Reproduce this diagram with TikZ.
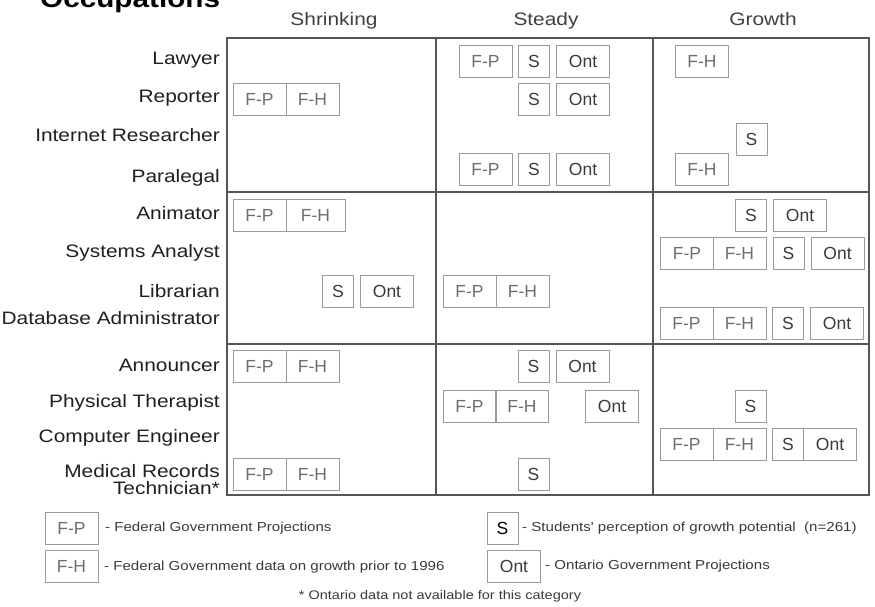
\documentclass[tikz,border=0pt]{standalone}
\usepackage{fontspec}
\setmainfont{Liberation Sans}
\newfontfamily\labfont[FakeStretch=1.16]{Liberation Sans}
\newfontfamily\boxfont{Liberation Sans}
\definecolor{gridc}{HTML}{555555}
\definecolor{boxc}{HTML}{9A9A9A}
\definecolor{fedc}{HTML}{6E6E6E}
\definecolor{stc}{HTML}{3A3A3A}
\definecolor{labc}{HTML}{202020}
\definecolor{hdrc}{HTML}{404040}
\begin{document}
\begin{tikzpicture}[x=1pt,y=-1pt,
  gridline/.style={draw=gridc,line width=1.1pt},
  lab/.style={anchor=base east,inner sep=0,text=labc,font=\labfont\fontsize{18}{18}\selectfont},
  hdr/.style={anchor=base,inner sep=0,text=hdrc,font=\labfont\fontsize{18}{18}\selectfont},
  bx/.style={draw=boxc,line width=0.8pt,inner sep=0,minimum height=32,font=\boxfont\fontsize{17.5}{17.5}\selectfont},
  wbox/.style={bx,minimum width=53},
  sbox/.style={bx,minimum width=31},
  fed/.style={wbox,text=fedc},
  stu/.style={sbox,text=stc},
  ont/.style={wbox,text=stc},
  lgd/.style={anchor=west,inner sep=0,text=stc,font=\labfont\fontsize{13}{13}\selectfont},
  foot/.style={anchor=center,inner sep=0,text=stc,font=\labfont\fontsize{12.5}{13}\selectfont}]
\useasboundingbox (0,0) rectangle (875,607);
\fill[white] (0,0) rectangle (875,607);

% title and headers
\node[anchor=base west,inner sep=0,font=\labfont\bfseries\fontsize{25.6}{26}\selectfont] (title) at (40,7.5) {Occupations};
\node[hdr] (hShr) at (334,26) {Shrinking};
\node[hdr] (hSte) at (546,26) {Steady};
\node[hdr] (hGro) at (763,26) {Growth};

% grid
\draw[gridline] (227,38) rectangle (869,495);
\draw[gridline] (436,38) -- (436,495);
\draw[gridline] (653,38) -- (653,495);
\draw[gridline] (227,192) -- (869,192);
\draw[gridline] (227,344) -- (869,344);

% row labels
\node[lab] (lLaw) at (220,65) {Lawyer};
\node[lab] (lRep) at (220,103) {Reporter};
\node[lab] (lInt) at (220,142) {Internet Researcher};
\node[lab] (lPar) at (220,182) {Paralegal};
\node[lab] (lAni) at (220,219) {Animator};
\node[lab] (lSys) at (220,257) {Systems Analyst};
\node[lab] (lLib) at (220,297) {Librarian};
\node[lab] (lDat) at (220,324) {Database Administrator};
\node[lab] (lAnn) at (220,371) {Announcer};
\node[lab] (lPhy) at (220,407) {Physical Therapist};
\node[lab] (lCom) at (220,442) {Computer Engineer};
\node[lab] (lMed) at (220,477) {Medical Records};
\node[lab] (lTec) at (220,494) {Technician*};

% Lawyer
\node[fed] (lawStFP) at (485.5,61) {F-P};
\node[stu] (lawStS) at (534,61) {S};
\node[ont] (lawStO) at (583,61) {Ont};
\node[fed] (lawGrFH) at (702,61) {F-H};
% Reporter
\node[fed] (repShFP) at (259.5,99.5) {F-P};
\node[fed] (repShFH) at (312.5,99.5) {F-H};
\node[stu] (repStS) at (534,99.5) {S};
\node[ont] (repStO) at (583,99.5) {Ont};
% Internet Researcher
\node[stu] (intGrS) at (751.5,139) {S};
% Paralegal
\node[fed] (parStFP) at (485.5,169) {F-P};
\node[stu] (parStS) at (534,169) {S};
\node[ont] (parStO) at (583,169) {Ont};
\node[fed] (parGrFH) at (702,169) {F-H};
% Animator
\node[fed] (aniShFP) at (259.5,215) {F-P};
\node[fed,minimum width=59] (aniShFH) at (315.5,215) {F-H};
\node[stu] (aniGrS) at (751,215) {S};
\node[ont] (aniGrO) at (800,215) {Ont};
% Systems Analyst
\node[fed] (sysGrFP) at (687,253.5) {F-P};
\node[fed] (sysGrFH) at (739.5,253.5) {F-H};
\node[stu] (sysGrS) at (788.5,253.5) {S};
\node[ont] (sysGrO) at (837.5,253.5) {Ont};
% Librarian
\node[stu] (libShS) at (338,291) {S};
\node[ont] (libShO) at (387,291) {Ont};
\node[fed] (libStFP) at (469.5,291) {F-P};
\node[fed] (libStFH) at (522.5,291) {F-H};
% Database Administrator
\node[fed] (datGrFP) at (686.5,323) {F-P};
\node[fed] (datGrFH) at (739.5,323) {F-H};
\node[stu] (datGrS) at (788,323) {S};
\node[ont] (datGrO) at (837,323) {Ont};
% Announcer
\node[fed] (annShFP) at (259.5,366) {F-P};
\node[fed] (annShFH) at (312.5,366) {F-H};
\node[stu] (annStS) at (533.5,366) {S};
\node[ont] (annStO) at (582.5,366) {Ont};
% Physical Therapist
\node[fed] (phyStFP) at (469.5,406.5) {F-P};
\node[fed] (phyStFH) at (522,406.5) {F-H};
\node[ont] (phyStO) at (612,406.5) {Ont};
\node[stu] (phyGrS) at (750.5,406.5) {S};
% Computer Engineer
\node[fed] (comGrFP) at (686.5,444) {F-P};
\node[fed] (comGrFH) at (739.5,444) {F-H};
\node[stu] (comGrS) at (788,444) {S};
\node[ont] (comGrO) at (830,444) {Ont};
% Medical Records Technician
\node[fed] (medShFP) at (259.5,474) {F-P};
\node[fed] (medShFH) at (312.5,474) {F-H};
\node[stu] (medStS) at (533.5,474) {S};

% legend
\node[fed] (kFP) at (71.5,528) {F-P};
\node[fed] (kFH) at (71.5,566) {F-H};
\node[stu,text=black] (kS) at (502.5,528) {S};
\node[ont] (kO) at (514,566) {Ont};
\node[lgd] (tFP) at (105,528) {- Federal Government Projections};
\node[lgd] (tFH) at (104,567) {- Federal Government data on growth prior to 1996};
\node[lgd] (tS) at (522,528) {- Students' perception of growth potential\ \ (n=261)};
\node[lgd] (tO) at (545,566) {- Ontario Government Projections};
\node[foot] (fn) at (440,596) {* Ontario data not available for this category};
\end{tikzpicture}
\end{document}
